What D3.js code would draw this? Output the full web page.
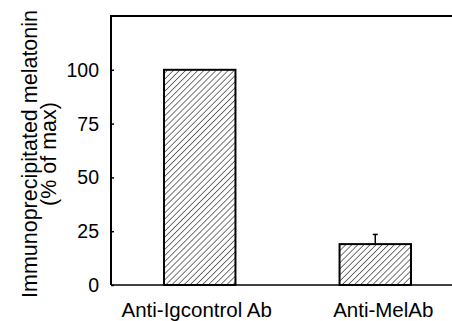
<!DOCTYPE html>
<html>
<head>
<meta charset="utf-8">
<script src="https://cdn.jsdelivr.net/npm/d3@7"></script>
<style>
  body { margin: 0; background: #fff; }
  svg text { font-family: "Liberation Sans", Arial, sans-serif; fill: #000; }
</style>
</head>
<body>
<div id="chart"></div>
<script>

var categories = ["Anti-Igcontrol Ab", "Anti-MelAb"];
var values = [100, 19];
var errors = [0, 4.5];
var yTicks = [0, 25, 50, 75, 100];
var yLabel = ["Immunoprecipitated melatonin", "(% of max)"];

var W = 452, H = 321;
var margin = { left: 111, top: 16, bottom: 285, right: 464 };

var svg = d3.select("#chart")
    .append("svg")
    .attr("width", W)
    .attr("height", H);

// hatch pattern "/"
svg.append("defs")
    .append("pattern")
    .attr("id", "hatch")
    .attr("patternUnits", "userSpaceOnUse")
    .attr("width", 4.3)
    .attr("height", 4.3)
    .attr("patternTransform", "rotate(45)")
    .append("line")
    .attr("x1", 0).attr("y1", 0)
    .attr("x2", 0).attr("y2", 4.3)
    .attr("stroke", "#000")
    .attr("stroke-width", 1.1);

var x = d3.scaleBand()
    .domain(categories)
    .range([margin.left, margin.right])
    .paddingInner(0.593)
    .paddingOuter(0.302);

var y = d3.scaleLinear()
    .domain([0, 125])
    .range([margin.bottom, margin.top]);

// frame: top and left
svg.append("path")
    .attr("d", "M" + (W + 5) + "," + y(125) + "H" + margin.left + "V" + y(0))
    .attr("fill", "none")
    .attr("stroke", "#000")
    .attr("stroke-width", 2);

// bars
svg.selectAll(".bar")
    .data(values).enter()
    .append("rect")
    .attr("class", "bar")
    .attr("x", function(d, i){ return x(categories[i]) })
    .attr("y", function(d){ return y(d) })
    .attr("width", x.bandwidth())
    .attr("height", function(d){ return y(0) - y(d) })
    .attr("fill", "url(#hatch)")
    .attr("stroke", "#000")
    .attr("stroke-width", 2);

// error bars (upper whisker only)
values.forEach(function(v, i) {
    if (!errors[i]) return;
    var cx = x(categories[i]) + x.bandwidth() / 2;
    svg.append("line")
        .attr("x1", cx).attr("x2", cx)
        .attr("y1", y(v)).attr("y2", y(v + errors[i]))
        .attr("stroke", "#000").attr("stroke-width", 1.5);
    svg.append("line")
        .attr("x1", cx - 2.5).attr("x2", cx + 2.5)
        .attr("y1", y(v + errors[i])).attr("y2", y(v + errors[i]))
        .attr("stroke", "#000").attr("stroke-width", 1.5);
});

// y axis (ticks inward)
var yAxis = d3.axisRight(y).tickValues(yTicks).tickSize(3).tickFormat("");
svg.append("g")
    .attr("transform", "translate(" + margin.left + ",0)")
    .call(yAxis)
    .call(function(g){ g.select(".domain").remove() })
    .selectAll("line").attr("stroke", "#000").attr("stroke-width", 1.5);

svg.selectAll(".ytick")
    .data(yTicks).enter()
    .append("text")
    .attr("class", "ytick")
    .attr("x", margin.left - 12)
    .attr("y", function(d){ return y(d) })
    .attr("dy", "0.36em")
    .attr("text-anchor", "end")
    .style("font-size", "19.5px")
    .text(function(d){ return d });

// x axis line
svg.append("line")
    .attr("x1", margin.left).attr("x2", W + 5)
    .attr("y1", y(0)).attr("y2", y(0))
    .attr("stroke", "#000").attr("stroke-width", 1.5);

// category labels
svg.selectAll(".xlab")
    .data(categories).enter()
    .append("text")
    .attr("class", "xlab")
    .attr("x", function(d){ return x(d) + x.bandwidth() / 2 })
    .attr("dx", function(d, i){ return i == 0 ? -3 : 8 })
    .attr("y", 317)
    .attr("text-anchor", "middle")
    .style("font-size", "20.5px")
    .text(function(d){ return d });

// y label
svg.append("text")
    .attr("transform", "translate(37,154) rotate(-90)")
    .attr("text-anchor", "middle")
    .style("font-size", "21.5px")
    .selectAll("tspan")
    .data(yLabel).enter()
    .append("tspan")
    .attr("x", 0)
    .attr("dy", function(d, i){ return i == 0 ? 0 : 19 })
    .text(function(d){ return d });

</script>
</body>
</html>
